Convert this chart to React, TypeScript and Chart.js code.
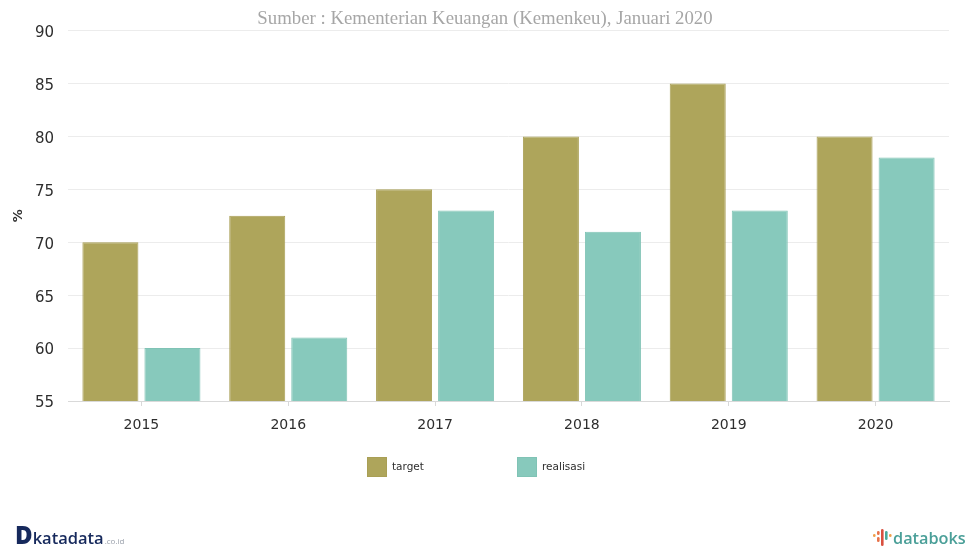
import React, { useEffect, useRef } from "react";
import { Chart, registerables } from "chart.js";

Chart.register(...registerables);

const years = ["2015", "2016", "2017", "2018", "2019", "2020"];
const target = [70, 72.5, 75, 80, 85, 80];
const realisasi = [60, 61, 73, 71, 73, 78];
const yTicks = [55, 60, 65, 70, 75, 80, 85, 90];
const sourceLine = "Sumber : Kementerian Keuangan (Kemenkeu), Januari 2020";

const TARGET_FILL = "#aea55b";
const TARGET_EDGE = "#a99f55";
const REALISASI_FILL = "#87c9bc";
const REALISASI_EDGE = "#80c3b5";
const INK = "#2e2e2e";

// Draws the two-item key under the plot, reading labels and colours from the datasets.
const swatchKey = {
  id: "swatchKey",
  afterDraw(chart: any) {
    const { ctx } = chart;
    const starts = [367, 517];
    ctx.save();
    ctx.font = "10.5px 'DejaVu Sans'";
    ctx.textBaseline = "middle";
    chart.data.datasets.forEach((ds: any, i: number) => {
      const x = starts[i];
      ctx.fillStyle = ds.backgroundColor;
      ctx.strokeStyle = ds.borderColor;
      ctx.lineWidth = 1;
      ctx.fillRect(x, 457, 20, 20);
      ctx.strokeRect(x + 0.5, 457.5, 19, 19);
      ctx.fillStyle = INK;
      ctx.fillText(ds.label, x + 25, 467);
    });
    ctx.restore();
  },
};

// Centres the heading on the full page width instead of the padded chart box.
const wideTitle = {
  id: "wideTitle",
  afterLayout(chart: any) {
    if (chart.titleBlock) {
      chart.titleBlock.left = 0;
      chart.titleBlock.right = 970;
    }
  },
};

function DataboksMark() {
  const strokes = [
    { x: 1, y: 6, h: 3, c: "#f0a04b" },
    { x: 5, y: 3, h: 4, c: "#e8734a" },
    { x: 5, y: 9, h: 5, c: "#e8734a" },
    { x: 9, y: 1, h: 17, c: "#d9503f" },
    { x: 13, y: 3, h: 9, c: "#4aa89a" },
    { x: 17, y: 6, h: 3, c: "#f0a04b" },
  ];
  return (
    <svg width="20" height="20" style={{ position: "absolute", left: 872, top: 528 }}>
      {strokes.map((s, i) => (
        <rect key={i} x={s.x} y={s.y} width="2.6" height={s.h} rx="1.3" fill={s.c} />
      ))}
    </svg>
  );
}

export default function App() {
  const canvasRef = useRef<HTMLCanvasElement>(null);

  useEffect(() => {
    const chart = new Chart(canvasRef.current!, {
      type: "bar",
      data: {
        labels: years,
        datasets: [
          {
            label: "target",
            data: target,
            backgroundColor: TARGET_FILL,
            borderColor: TARGET_EDGE,
            borderWidth: 1,
          },
          {
            label: "realisasi",
            data: realisasi,
            backgroundColor: REALISASI_FILL,
            borderColor: REALISASI_EDGE,
            borderWidth: 1,
          },
        ],
      },
      options: {
        animation: false,
        responsive: false,
        layout: { padding: { top: 7, right: 17, bottom: 0, left: 0 } },
        datasets: { bar: { barPercentage: 0.903, categoryPercentage: 0.845 } },
        plugins: {
          legend: { display: false },
          tooltip: { enabled: false },
          title: {
            display: true,
            text: sourceLine,
            color: "#a6a6a6",
            font: { family: "'Liberation Serif'", size: 18.8, weight: "normal" },
            padding: { top: 1, bottom: 0 },
          },
        },
        scales: {
          x: {
            grid: {
              offset: false,
              drawOnChartArea: false,
              tickLength: 5,
              tickColor: "#d9d9d9",
            },
            border: { color: "#d9d9d9" },
            ticks: {
              color: INK,
              padding: 11,
              maxRotation: 0,
              font: { family: "'DejaVu Sans'", size: 14 },
            },
            afterFit(scale: any) {
              scale.height = 148;
            },
          },
          y: {
            min: 55,
            max: 90,
            afterBuildTicks(scale: any) {
              scale.ticks = yTicks.map((value) => ({ value }));
            },
            grid: { color: "#ececec", drawTicks: false },
            border: { display: false },
            ticks: {
              color: INK,
              padding: 14,
              labelOffset: 2.5,
              font: { family: "'DejaVu Sans'", size: 15 },
            },
            title: {
              display: true,
              text: "%",
              color: INK,
              padding: { top: 11, bottom: 0 },
              font: { family: "'DejaVu Sans'", size: 13, weight: "bold" },
            },
            afterFit(scale: any) {
              scale.width = 68;
            },
          },
        },
      },
      plugins: [swatchKey, wideTitle],
    } as any);
    return () => chart.destroy();
  }, []);

  return (
    <div
      style={{
        position: "fixed",
        left: 0,
        top: 0,
        width: 966,
        height: 549,
        background: "#ffffff",
        overflow: "hidden",
      }}
    >
      <canvas ref={canvasRef} width={966} height={549} style={{ display: "block" }} />
      <div
        style={{
          position: "absolute",
          left: 15,
          top: 523,
          fontFamily: "'Open Sans', sans-serif",
          color: "#16295c",
          lineHeight: "24px",
          whiteSpace: "nowrap",
        }}
      >
        <span style={{ fontWeight: 800, fontSize: 24 }}>D</span>
        <span style={{ fontWeight: 600, fontSize: 16.5 }}>katadata</span>
        <span style={{ fontSize: 8, color: "#9aa0ab", marginLeft: 1 }}>.co.id</span>
      </div>
      <DataboksMark />
      <div
        style={{
          position: "absolute",
          left: 893,
          top: 526,
          fontFamily: "'Open Sans', sans-serif",
          fontWeight: 600,
          color: "#4a9f98",
          fontSize: 16.3,
          lineHeight: "24px",
          whiteSpace: "nowrap",
        }}
      >
        databoks
      </div>
    </div>
  );
}
